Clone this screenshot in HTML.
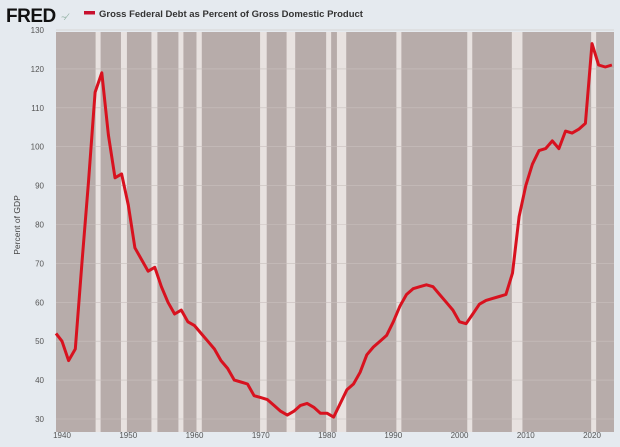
<!DOCTYPE html>
<html><head><style>
body{margin:0;width:620px;height:442px;background:#e5eaef;overflow:hidden;font-family:"Liberation Sans",sans-serif;}
</style></head><body>
<svg id="s" width="620" height="442" xmlns="http://www.w3.org/2000/svg">
<rect x="0" y="0" width="620" height="442" fill="#e5eaef"/>
<text x="6" y="22" font-size="19" font-weight="bold" fill="#111" letter-spacing="-0.5">FRED</text>
<text x="61" y="20" font-size="9" fill="#8a9" font-style="italic">~⁄</text>
<rect x="84" y="11" width="11" height="3.5" fill="#c8102e"/>
<text x="99" y="17" font-size="9.5" font-weight="bold" fill="#333">Gross Federal Debt as Percent of Gross Domestic Product</text>
<text x="20" y="225" font-size="8.5" fill="#444" transform="rotate(-90 20 225)" text-anchor="middle">Percent of GDP</text>
<g id="g"></g>
</svg>
<script>
const g=document.getElementById('g');const NS='http://www.w3.org/2000/svg';
const X=y=>62+(y-1940)*6.625, Y=v=>419-(v-30)*3.89;
function el(t,a,txt){const e=document.createElementNS(NS,t);for(const k in a)e.setAttribute(k,a[k]);if(txt)e.textContent=txt;g.appendChild(e);return e;}
el('rect',{x:56,y:32,width:558,height:400,fill:'#b7acaa'});
const rec=[[1945.1,1945.8],[1948.9,1949.8],[1953.5,1954.4],[1957.6,1958.3],[1960.3,1961.1],[1969.9,1970.9],[1973.9,1975.2],[1980.0,1980.5],[1981.5,1982.9],[1990.5,1991.2],[2001.2,2001.9],[2007.9,2009.5],[2020.1,2020.4]];
rec.forEach(r=>{let a=X(r[0]),b=X(r[1]);if(b-a<5){let m=(a+b)/2;a=m-2.5;b=m+2.5;}el('rect',{x:a,y:32,width:b-a,height:400,fill:'#e8e2e0'});});
for(let v=30;v<=130;v+=10){el('line',{x1:56,x2:614,y1:Y(v),y2:Y(v),stroke:'#c9c0be','stroke-width':0.6});el('text',{x:44,y:Y(v)+3,'font-size':8,fill:'#555','text-anchor':'end'},String(v));}
for(let y=1940;y<=2020;y+=10)el('text',{x:X(y),y:438,'font-size':8,fill:'#555','text-anchor':'middle'},String(y));
const d=[52,50,45,48,70,91,114,119,103,92,93,85,74,71,68,69,64,60,57,58,55,54,52,50,48,45,43,40,39.5,39,36,35.5,35,33.5,32,31,32,33.5,34,33,31.5,31.5,30.5,34,37.5,39,42,46.5,48.5,50,51.5,55,59,62,63.5,64,64.5,64,62,60,58,55,54.5,57,59.5,60.5,61,61.5,62,67.5,82,90,95.5,99,99.5,101.5,99.5,104,103.5,104.5,106,126.5,121,120.5,121];
const pts=d.map((v,i)=>{let yr=1939+i;if(i==0)yr=1939.1;return X(yr).toFixed(1)+','+Y(v).toFixed(1)}).join(' ');
el('polyline',{points:pts,fill:'none',stroke:'#d8121f','stroke-width':3,'stroke-linejoin':'round'});
</script>
</body></html>
